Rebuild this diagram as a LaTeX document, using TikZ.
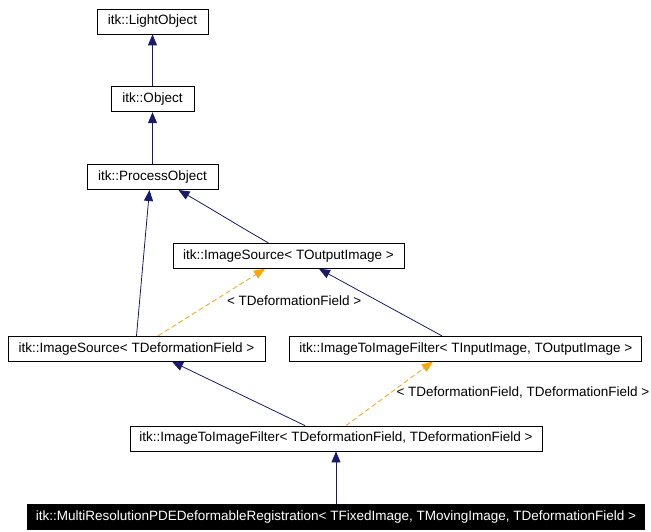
\documentclass[tikz,border=0pt]{standalone}
\usepackage{fontspec}
\setmainfont{Liberation Sans}
\usepackage{tikz}
\usetikzlibrary{arrows.meta, positioning}

\definecolor{dxnavy}{RGB}{25,25,112}
\definecolor{dxorange}{RGB}{255,165,0}

\begin{document}
\begin{tikzpicture}[
    x=1pt, y=1pt,
    node distance=52pt and 24pt,
    klass/.style={rectangle, draw=black, fill=white, line width=0.8pt, minimum height=25pt, inner xsep=8pt, inner ysep=0pt, align=center, font=\fontsize{13.5}{15}\selectfont},
    current/.style={klass, draw=black, fill=black, text=white},
    inherit/.style={-{Triangle[length=11pt, width=9pt]}, line width=0.8pt, draw=dxnavy},
    template/.style={-{Triangle[length=11pt, width=9pt]}, line width=0.8pt, draw=dxorange, dash pattern=on 5pt off 3pt},
    edge_label/.style={font=\fontsize{13.5}{15}\selectfont, inner sep=1pt}
  ]

  \useasboundingbox (0,0) rectangle (651,-532);

  \node[klass, minimum width=111pt] (lightobj) at (152.5,-21.5) {itk::LightObject};
  \node[klass, minimum width=83pt] (object) [below=of lightobj] {itk::Object};
  \node[klass, minimum width=131pt] (process) [below=of object] {itk::ProcessObject};

  \node[klass, minimum width=231pt] (srcout) [below=53pt of process, xshift=136pt] {itk::ImageSource< TOutputImage >};
  \node[klass, minimum width=257pt] (srcdef) [below=67pt of srcout, xshift=-152pt] {itk::ImageSource< TDeformationField >};
  \node[klass, minimum width=352pt] (filtio) [right=of srcdef] {itk::ImageToImageFilter< TInputImage, TOutputImage >};

  \node[klass, minimum width=412pt] (filtdef) [below=64pt of srcdef, xshift=199.5pt] {itk::ImageToImageFilter< TDeformationField, TDeformationField >};
  \node[current, minimum width=614pt] (multi) [below=53pt of filtdef] {itk::MultiResolutionPDEDeformableRegistration< TFixedImage, TMovingImage, TDeformationField >};

  \draw[inherit] (object) -- (lightobj);
  \draw[inherit] (process) -- (object);

  \draw[inherit] (srcdef.north) -- ([xshift=-3pt]process.south);
  \draw[inherit] ([xshift=-20pt]srcout.north) to[out=150, in=-30] ([xshift=26pt]process.south);
  \draw[template] ([xshift=21.5pt]srcdef.north) -- node[edge_label, pos=0.52, right=12pt] {< TDeformationField >} ([xshift=-23.5pt]srcout.south);
  \draw[inherit] ([xshift=-24pt]filtio.north) -- ([xshift=30.5pt]srcout.south);

  \draw[inherit] ([xshift=-31pt]filtdef.north) -- ([xshift=35.5pt]srcdef.south);
  \draw[template] ([xshift=10pt]filtdef.north) -- node[edge_label, pos=0.52, right=4pt] {< TDeformationField, TDeformationField >} ([xshift=-33pt]filtio.south);

  \draw[inherit] (multi) -- (filtdef);

\end{tikzpicture}
\end{document}
